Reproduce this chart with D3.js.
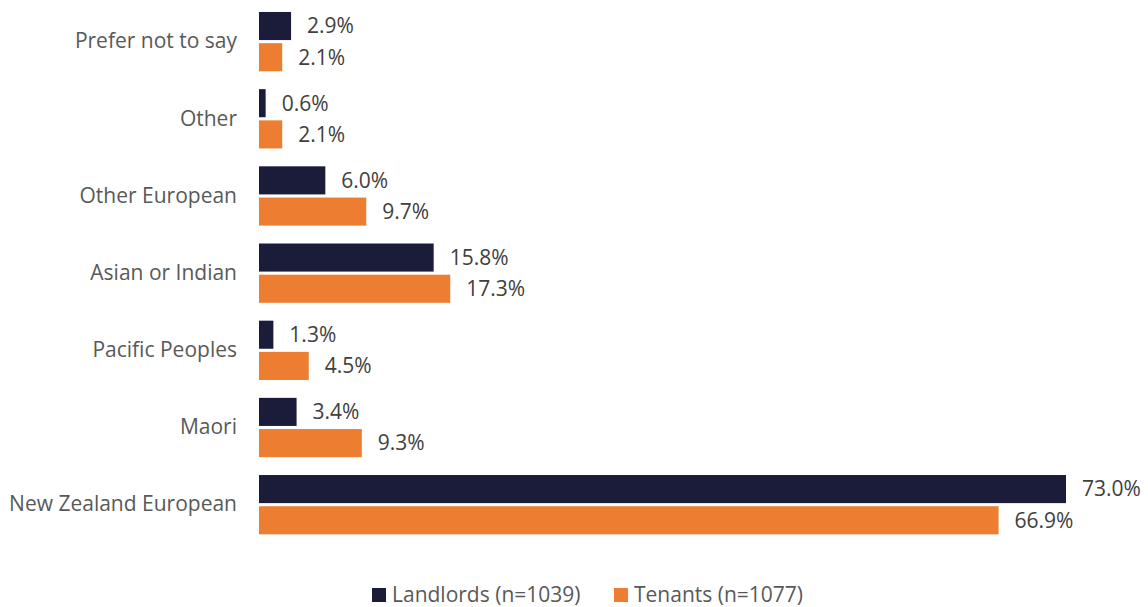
<!DOCTYPE html>
<html>
<head>
<meta charset="utf-8">
<script src="https://cdn.jsdelivr.net/npm/d3@7"></script>
<style>
  body { margin: 0; background: #fff; }
  svg { display: block; font-family: "Open Sans", sans-serif; }
</style>
</head>
<body>
<svg id="chart" width="1148" height="607"></svg>
<script>
// categories top to bottom
const categories = ["Prefer not to say", "Other", "Other European", "Asian or Indian", "Pacific Peoples", "Maori", "New Zealand European"];
const landlords = [2.9, 0.6, 6.0, 15.8, 1.3, 3.4, 73.0];
const tenants = [2.1, 2.1, 9.7, 17.3, 4.5, 9.3, 66.9];
const seriesNames = ["Landlords (n=1039)", "Tenants (n=1077)"];
const colors = ["#1b1c3a", "#ed7d31"];

const svg = d3.select("#chart");
const fontSize = 21;
const margin = {left: 259};

// x scale: 0..73 maps 259..1066
const x = d3.scaleLinear().domain([0, 73]).range([margin.left, 1066]);

// group bands
const y = d3.scaleBand()
    .domain(categories)
    .range([-5.9, 552.2])
    .paddingInner(0.2316)
    .paddingOuter(0.2316);

const y1 = d3.scaleBand()
    .domain([0, 1])
    .range([0, y.bandwidth()])
    .paddingInner(0.1);

const rows = categories.map((c, i) => ({cat: c, vals: [landlords[i], tenants[i]]}));

const groups = svg.selectAll(".grp")
    .data(rows)
    .enter()
    .append("g")
    .attr("class", "grp")
    .attr("transform", d => `translate(0, ${y(d.cat)})`);

groups.selectAll("rect")
    .data(d => d.vals)
    .enter()
    .append("rect")
    .attr("x", x(0))
    .attr("y", (d, i) => y1(i))
    .attr("width", d => x(d) - x(0))
    .attr("height", y1.bandwidth())
    .attr("fill", (d, i) => colors[i]);

groups.selectAll("text.val")
    .data(d => d.vals)
    .enter()
    .append("text")
    .attr("class", "val")
    .attr("x", d => x(d) + 16)
    .attr("y", (d, i) => y1(i) + y1.bandwidth() / 2)
    .attr("dy", "0.35em")
    .attr("font-size", fontSize)
    .attr("fill", "#404040")
    .text(d => d.toFixed(1) + "%");

// category axis labels
const yAxis = d3.axisLeft(y).tickSize(0).tickPadding(22);
const ax = svg.append("g")
    .attr("transform", `translate(${margin.left}, 0)`)
    .call(yAxis);
ax.select(".domain").remove();
ax.selectAll("text")
    .attr("font-family", "Open Sans, sans-serif")
    .attr("font-size", fontSize)
    .attr("fill", "#595959");

// legend
const legendItems = [
  {name: seriesNames[0], color: colors[0], x: 372},
  {name: seriesNames[1], color: colors[1], x: 614}
];
const lg = svg.append("g").attr("transform", "translate(0, 588)");
const li = lg.selectAll("g")
    .data(legendItems)
    .enter()
    .append("g")
    .attr("transform", d => `translate(${d.x}, 0)`);
li.append("rect")
    .attr("width", 14)
    .attr("height", 14)
    .attr("fill", d => d.color);
li.append("text")
    .attr("x", 20)
    .attr("y", 7)
    .attr("dy", "0.35em")
    .attr("font-size", fontSize)
    .attr("fill", "#595959")
    .text(d => d.name);
</script>
</body>
</html>
